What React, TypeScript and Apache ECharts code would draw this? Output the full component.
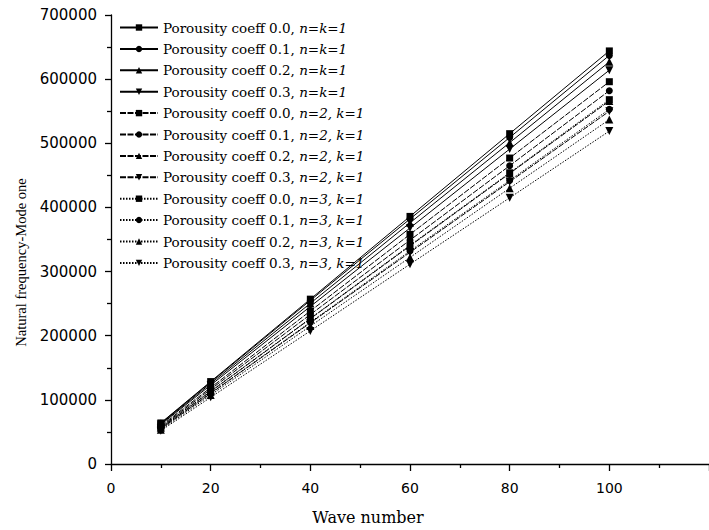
import React, { useEffect, useRef } from "react";
import * as echarts from "echarts";

const waveNumbers = [10, 20, 40, 60, 80, 100];

const seriesNames = [
  "Porousity coeff 0.0, n=k=1",
  "Porousity coeff 0.1, n=k=1",
  "Porousity coeff 0.2, n=k=1",
  "Porousity coeff 0.3, n=k=1",
  "Porousity coeff 0.0, n=2, k=1",
  "Porousity coeff 0.1, n=2, k=1",
  "Porousity coeff 0.2, n=2, k=1",
  "Porousity coeff 0.3, n=2, k=1",
  "Porousity coeff 0.0, n=3, k=1",
  "Porousity coeff 0.1, n=3, k=1",
  "Porousity coeff 0.2, n=3, k=1",
  "Porousity coeff 0.3, n=3, k=1",
];

const n1p00 = [64000, 128500, 257000, 386000, 515000, 644000];
const n1p01 = [63500, 127500, 255000, 382000, 509000, 637000];
const n1p02 = [62500, 125500, 250500, 376000, 501000, 627000];
const n1p03 = [61500, 123000, 245500, 368000, 491000, 614000];
const n2p00 = [59500, 119000, 238500, 358000, 477000, 596000];
const n2p01 = [58000, 116500, 233000, 349000, 465000, 582000];
const n2p02 = [56500, 113000, 226500, 340000, 453000, 566000];
const n2p03 = [55000, 110000, 220000, 330000, 440000, 550000];
const n3p00 = [57000, 113500, 227000, 341000, 454000, 568000];
const n3p01 = [55500, 110500, 221000, 332000, 442000, 553000];
const n3p02 = [53500, 107500, 215000, 322000, 430000, 537000];
const n3p03 = [52000, 104000, 207500, 311500, 415000, 519000];

const seriesValues = [
  n1p00, n1p01, n1p02, n1p03,
  n2p00, n2p01, n2p02, n2p03,
  n3p00, n3p01, n3p02, n3p03,
];

const yTicks = [0, 100000, 200000, 300000, 400000, 500000, 600000, 700000];
const xTicks = [0, 20, 40, 60, 80, 100];

const markerShapes = ["rect", "circle", "triangle", "triangle"];
const markerRotations = [0, 0, 0, 180];
const markerSizes = [7, 7, 8, 8];
const groupLineTypes: any[] = ["solid", [6, 1.5], [1.5, 1.5]];

const SERIF = "'DejaVu Serif', serif";

export default function App() {
  const ref = useRef<HTMLDivElement>(null);
  useEffect(() => {
    const chart = echarts.init(ref.current!, null, { renderer: "svg" });
    const series = seriesNames.map((name, i) => {
      const m = i % 4;
      const g = Math.floor(i / 4);
      return {
        type: "line",
        name,
        data: waveNumbers.map((x, j) => [x, seriesValues[i][j]]),
        symbol: markerShapes[m],
        symbolRotate: markerRotations[m],
        symbolSize: markerSizes[m],
        showAllSymbol: true,
        itemStyle: { color: "#000" },
        lineStyle: { color: "#000", width: 1, type: groupLineTypes[g] },
        emphasis: { disabled: true },
      };
    });
    chart.setOption({
      animation: false,
      backgroundColor: "#fff",
      grid: { left: 111, top: 15, right: -60.5, bottom: 65, containLabel: false },
      legend: {
        orient: "vertical",
        left: 119,
        top: 20.5,
        padding: 0,
        itemWidth: 38,
        itemHeight: 8,
        itemGap: 7.4,
        selectedMode: false,
        data: seriesNames,
        formatter: (name: string) => {
          const k = name.indexOf(", ");
          return `{r|${name.slice(0, k + 2)}}{i|${name.slice(k + 2)}}`;
        },
        textStyle: {
          fontFamily: SERIF,
          fontSize: 13.5,
          color: "#000",
          lineHeight: 14,
          rich: {
            r: { fontFamily: SERIF, fontSize: 13.5, color: "#000", lineHeight: 14 },
            i: { fontFamily: SERIF, fontSize: 13.5, fontStyle: "italic", color: "#000", lineHeight: 14 },
          },
        },
      },
      xAxis: {
        type: "value",
        min: 0,
        max: 120,
        interval: 20,
        name: "Wave number",
        nameLocation: "middle",
        nameGap: 45,
        nameTextStyle: { fontFamily: SERIF, fontSize: 16, color: "#000", padding: [0, 84, 0, 0] },
        axisLine: { show: true, onZero: false, lineStyle: { color: "#000", width: 1.3 } },
        axisTick: { show: true, length: 7, lineStyle: { color: "#000", width: 1.3 } },
        minorTick: { show: true, splitNumber: 2, length: 4, lineStyle: { color: "#000", width: 1.3 } },
        splitLine: { show: false },
        axisLabel: {
          showMaxLabel: false,
          margin: 17,
          fontFamily: "'DejaVu Sans', sans-serif",
          fontSize: 14,
          color: "#000",
          formatter: (v: number) => (xTicks.includes(v) ? String(v) : ""),
        },
      },
      yAxis: {
        type: "value",
        min: 0,
        max: 700000,
        interval: 100000,
        name: "Natural frequency-Mode one",
        nameLocation: "middle",
        nameGap: 82,
        nameTextStyle: { fontFamily: "'Liberation Serif', serif", fontSize: 14.5, color: "#000", padding: [0, 46, 0, 0] },
        axisLine: { show: true, lineStyle: { color: "#000", width: 1.3 } },
        axisTick: { show: true, length: 6, lineStyle: { color: "#000", width: 1.3 } },
        minorTick: { show: true, splitNumber: 2, length: 4, lineStyle: { color: "#000", width: 1.3 } },
        splitLine: { show: false },
        axisLabel: {
          margin: 14,
          fontFamily: "'DejaVu Sans', sans-serif",
          fontSize: 15,
          color: "#000",
          formatter: (v: number) => (yTicks.includes(v) ? String(v) : ""),
        },
      },
      series,
    });
    return () => chart.dispose();
  }, []);
  return <div ref={ref} style={{ position: "absolute", left: 0, top: 0, width: 709, height: 530 }} />;
}
